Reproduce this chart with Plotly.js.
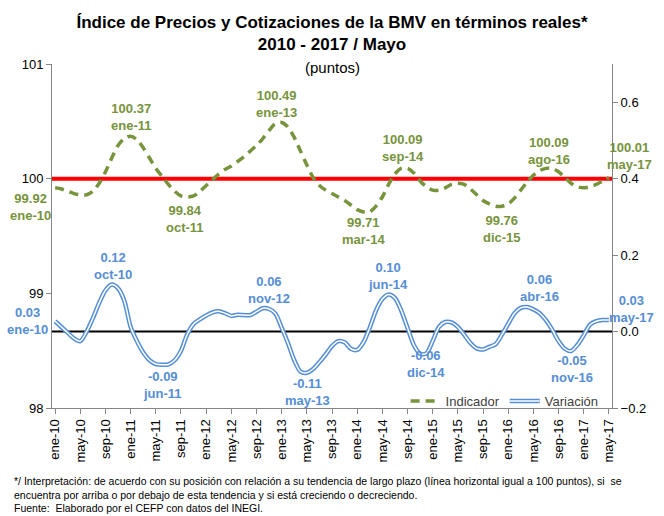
<!DOCTYPE html>
<html><head><meta charset="utf-8">
<script src="https://cdn.plot.ly/plotly-3.0.1.min.js"></script>
<style>html,body{margin:0;padding:0;background:#fff}#chart{width:664px;height:516px}</style>
</head><body><div id="chart"></div>
<script>
// ---- DATA ----
var monthNames = ['ene','feb','mar','abr','may','jun','jul','ago','sep','oct','nov','dic'];
var years = ['10','11','12','13','14','15','16','17'];
var indicador = [99.92,99.91,99.89,99.87,99.86,99.86,99.89,99.96,100.06,100.18,100.29,100.35,
 100.37,100.34,100.27,100.18,100.09,100.02,99.95,99.89,99.85,99.84,99.85,99.89,
 99.94,99.99,100.04,100.08,100.11,100.15,100.19,100.24,100.29,100.35,100.42,100.48,
 100.49,100.45,100.36,100.24,100.12,100.01,99.94,99.90,99.87,99.84,99.81,99.77,
 99.73,99.71,99.71,99.76,99.84,99.95,100.04,100.09,100.09,100.05,99.98,99.93,
 99.90,99.90,99.92,99.95,99.96,99.95,99.91,99.86,99.81,99.78,99.76,99.76,
 99.78,99.83,99.90,99.97,100.03,100.07,100.09,100.09,100.06,100.01,99.96,99.93,
 99.92,99.93,99.95,99.98,100.01];
var variacion = [0.027,0.012,-0.003,-0.018,-0.025,0.000,0.035,0.075,0.108,0.123,0.113,0.080,
 0.012,-0.025,-0.055,-0.075,-0.085,-0.087,-0.086,-0.075,-0.050,-0.007,0.020,0.032,
 0.042,0.050,0.053,0.048,0.041,0.044,0.043,0.043,0.052,0.061,0.059,0.047,
 0.010,-0.030,-0.075,-0.105,-0.108,-0.098,-0.080,-0.060,-0.038,-0.025,-0.028,-0.045,
 -0.048,-0.028,0.010,0.055,0.085,0.097,0.088,0.055,0.010,-0.035,-0.058,-0.057,
 -0.025,0.012,0.025,0.024,0.012,-0.008,-0.030,-0.044,-0.047,-0.040,-0.033,-0.008,
 0.020,0.048,0.062,0.064,0.058,0.048,0.030,0.005,-0.025,-0.045,-0.051,-0.035,
 -0.010,0.018,0.027,0.030,0.030];
var tendencia = 100;   // red reference line (left axis)
var ceroVar = 0;       // black reference line (right axis)
var tickIdx = [0,4,8,12,16,20,24,28,32,36,40,44,48,52,56,60,64,68,72,76,80,84,88];
var tickLabels = ['ene-10','may-10','sep-10','ene-11','may-11','sep-11','ene-12','may-12','sep-12','ene-13','may-13','sep-13','ene-14','may-14','sep-14','ene-15','may-15','sep-15','ene-16','may-16','sep-16','ene-17','may-17'];
var indLabelIdx = [0,12,21,36,50,56,71,79,88];
var varLabelIdx = [0,9,17,34,40,53,59,75,82,88];

// ---- STYLE (label placement) ----
var indLabelPos = [
 {ya:'top',xs:-25,ys:-1},{ya:'bottom',xs:0,ys:1},{ya:'top',xs:-2,ys:-4},{ya:'bottom',xs:-5,ys:0},
 {ya:'top',xs:-6,ys:-1},{ya:'bottom',xs:-5,ys:2},{ya:'top',xs:0,ys:-5},{ya:'bottom',xs:-3,ys:-1},
 {ya:'bottom',xs:21,ys:4}];
var varLabelPos = [
 {ya:'middle',xs:-28,ys:0},{ya:'bottom',xs:1,ys:1},{ya:'top',xs:0,ys:-2},{ya:'bottom',xs:0,ys:1},
 {ya:'top',xs:1,ys:-1},{ya:'bottom',xs:-1,ys:0},{ya:'top',xs:0,ys:7},{ya:'bottom',xs:12,ys:1},
 {ya:'top',xs:1,ys:0},{ya:'middle',xs:23,ys:11}];

var cats = [];
for (var y = 0; y < years.length; y++) for (var m = 0; m < 12; m++) cats.push(monthNames[m] + '-' + years[y]);
var x = indicador.map(function(_, i){ return i; });

var GREEN = '#77933C', BLUE = '#558ED5', FONT = 'Liberation Sans, Arial, sans-serif';

var traces = [
 {x: x, y: indicador, type:'scatter', mode:'lines', name:'Indicador', yaxis:'y',
  line:{color:GREEN, width:3.5, dash:'9px,6px', shape:'spline', smoothing:0.8}},
 {x: x, y: variacion, type:'scatter', mode:'lines', name:'Variación', yaxis:'y2',
  line:{color:BLUE, width:4.5, shape:'spline', smoothing:0.8}},
 {x: x, y: variacion, type:'scatter', mode:'lines', name:'', showlegend:false, yaxis:'y2', hoverinfo:'skip',
  line:{color:'#ffffff', width:1.5, shape:'spline', smoothing:0.8}}
];

var ann = [];
indLabelIdx.forEach(function(i, k){
  var p = indLabelPos[k];
  ann.push({x:i, y:indicador[i], xref:'x', yref:'y', showarrow:false, xanchor:'center', yanchor:p.ya,
    xshift:p.xs, yshift:p.ys, text:'<b>'+indicador[i].toFixed(2)+'<br>'+cats[i]+'</b>',
    font:{family:FONT, size:13, color:GREEN}});
});
varLabelIdx.forEach(function(i, k){
  var p = varLabelPos[k];
  ann.push({x:i, y:variacion[i], xref:'x', yref:'y2', showarrow:false, xanchor:'center', yanchor:p.ya,
    xshift:p.xs, yshift:p.ys, text:'<b>'+variacion[i].toFixed(2)+'<br>'+cats[i]+'</b>',
    font:{family:FONT, size:13, color:BLUE}});
});
ann.push({x:0.5, y:0.991, xref:'paper', yref:'paper', showarrow:false, xanchor:'center', yanchor:'middle',
  text:'(puntos)', font:{family:FONT, size:15, color:'#000'}});
ann.push({x:-0.0714, y:-0.19, xref:'paper', yref:'paper', showarrow:false, xanchor:'left', yanchor:'top', align:'left',
  text:'*/ Interpretación: de acuerdo con su posición con relación a su tendencia de largo plazo (línea horizontal igual a 100 puntos), si  se<br>encuentra por arriba o por debajo de esta tendencia y si está creciendo o decreciendo.<br>Fuente:  Elaborado por el CEFP con datos del INEGI.',
  font:{family:'Liberation Sans Narrow, Arial Narrow, sans-serif', size:10.5, color:'#000'}});

var layout = {
  width:664, height:516, paper_bgcolor:'#fff', plot_bgcolor:'#fff',
  margin:{l:52, r:52, t:64, b:108},
  title:{text:'<b>Índice de Precios y Cotizaciones de la BMV en términos reales*<br>2010 - 2017 / Mayo</b>',
    x:0.5, xanchor:'center', y:0.945, yref:'container', yanchor:'middle',
    font:{family:'Liberation Sans Narrow, Arial Narrow, sans-serif', size:17, color:'#000'}},
  showlegend:true,
  legend:{orientation:'h', x:0.985, xanchor:'right', y:0.02, yanchor:'middle', bgcolor:'rgba(0,0,0,0)',
    font:{family:FONT, size:13, color:'#404040'}, itemwidth:30},
  xaxis:{range:[-0.5,88.5], tickvals:tickIdx, ticktext:tickLabels, tickangle:-90, ticks:'outside', ticklen:5,
    tickcolor:'#868686', showline:true, linecolor:'#868686', linewidth:1, showgrid:false, zeroline:false,
    tickfont:{family:FONT, size:13, color:'#000'}},
  yaxis:{range:[98,101], dtick:1, ticks:'outside', ticklen:5, tickcolor:'#868686', showline:true,
    linecolor:'#868686', showgrid:false, zeroline:false, tickfont:{family:FONT, size:13, color:'#000'}},
  yaxis2:{range:[-0.2,0.7], overlaying:'y', side:'right', tickvals:[-0.2,0,0.2,0.4,0.6], tickformat:'.1f',
    ticks:'outside', ticklen:5, tickcolor:'#868686', showline:true, linecolor:'#868686', showgrid:false,
    zeroline:false, tickfont:{family:FONT, size:13, color:'#000'}},
  shapes:[
    {type:'line', xref:'paper', x0:0, x1:1, yref:'y', y0:tendencia, y1:tendencia, layer:'below',
     line:{color:'#FF0000', width:4}},
    {type:'line', xref:'paper', x0:0, x1:1, yref:'y2', y0:ceroVar, y1:ceroVar, layer:'below',
     line:{color:'#000000', width:2}}
  ],
  annotations: ann
};
Plotly.newPlot('chart', traces, layout, {displayModeBar:false, staticPlot:true}).then(function(gd){
  // give the "Variación" legend symbol the same double-line look as the series
  var items = gd.querySelectorAll('.legend .traces');
  if (items.length > 1) {
    var p = items[1].querySelector('path.js-line');
    if (p) {
      var c = p.cloneNode(true);
      c.style.stroke = '#ffffff';
      c.style.strokeWidth = '1.5px';
      p.parentNode.appendChild(c);
    }
  }
});
</script></body></html>
